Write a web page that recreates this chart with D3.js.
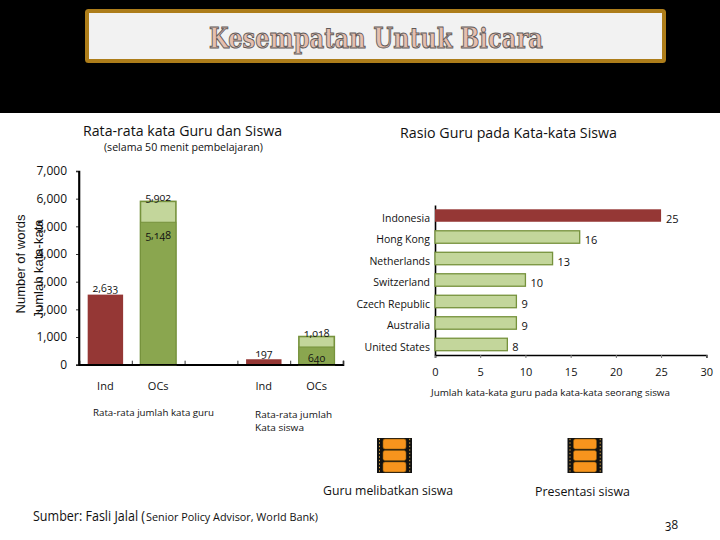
<!DOCTYPE html>
<html><head><meta charset="utf-8">
<script src="https://cdn.jsdelivr.net/npm/d3@7"></script>
<style>html,body{margin:0;padding:0;background:#fff}svg{display:block}text{fill:#111}</style>
</head><body><svg id="c" width="720" height="540"></svg>
<script>
const wordSlots = ["ind1","ocs1","gap","ind2","ocs2"];
const wordTickLabels = ["Ind","OCs","","Ind","OCs"];
const wordTicks = [0,1000,2000,3000,4000,5000,6000,7000];
const solidSlots = ["ind1","ocs1","ind2","ocs2"];
const solidValues = [2533,5148,197,640];
const solidLabels = ["2,633","5,148","197","640"];
const lightSlots = ["ocs1","ocs2"];
const lightValues = [5902,1018];
const lightLabels = ["5,902","1,018"];
const countries = ["Indonesia","Hong Kong","Netherlands","Switzerland","Czech Republic","Australia","United States"];
const ratios = [25,16,13,10,9,9,8];
const ratioTicks = [0,5,10,15,20,25,30];

const RED="#953735", GREEN="#8aa64f", LIGHT="#c3d69b", EDGE="#76923c";
const UI='"Open Sans",sans-serif';
const svg=d3.select("#c");
svg.append("rect").attr("width",720).attr("height",113).attr("fill","#000");
svg.append("rect").attr("x",87).attr("y",11).attr("width",577).attr("height",50).attr("rx",1.5)
  .attr("fill","#f2f2f2").attr("stroke","#ad7d1a").attr("stroke-width",4);
function label(x,y,s,size,opt={}){
  const t=svg.append("text").attr("x",x).attr("y",y).attr("font-family",opt.font||UI).attr("font-size",size)
   .attr("text-anchor",opt.anchor||"start").text(s);
  if(opt.len) t.attr("textLength",opt.len).attr("lengthAdjust","spacingAndGlyphs");
  if(opt.old) t.style("font-variant-numeric","oldstyle-nums");
  return t;
}
label(376,48,"Kesempatan Untuk Bicara",28,{font:'"DejaVu Serif",serif',anchor:"middle",len:334})
  .attr("font-weight","bold").style("fill","#e6bfae").attr("stroke","#5f5a5a").attr("stroke-width",1);
label(83,136,"Rata-rata kata Guru dan Siswa",14.5,{len:199});
label(400,138,"Rasio Guru pada Kata-kata Siswa",14.5,{len:217});
label(104,151,"(selama 50 menit pembelajaran)",11,{len:159});

const y=d3.scaleLinear().domain([0,7000]).range([364.7,171]);
const x=d3.scaleBand().domain(wordSlots).range([79,343]).paddingInner(.31).paddingOuter(.155);
const gy=svg.append("g").attr("transform","translate(79,0)")
  .call(d3.axisLeft(y).tickValues(wordTicks).tickFormat(d3.format(",")).tickSize(3).tickPadding(9));
const gx=svg.append("g").attr("transform","translate(0,364.7)")
  .call(d3.axisBottom(d3.scalePoint().domain(d3.range(6)).range([79,343])).tickSize(-4).tickFormat(""));
[gy,gx].forEach(g=>{g.selectAll(".domain").attr("stroke","#000").attr("stroke-width",1.6);
  g.selectAll(".tick line").attr("stroke","#333").attr("stroke-width",1);});
gy.selectAll("text").attr("font-family",UI).attr("font-size",12);
lightSlots.forEach((s,i)=>{svg.append("rect").attr("x",x(s)+.5).attr("width",x.bandwidth()-1)
  .attr("y",y(lightValues[i])).attr("height",y(0)-y(lightValues[i]))
  .attr("fill",LIGHT).attr("stroke",EDGE).attr("stroke-width",1.6);});
solidSlots.forEach((s,i)=>{const red=s.startsWith("ind");
  svg.append("rect").attr("x",x(s)+(red?.5:.5)).attr("width",x.bandwidth()-1)
  .attr("y",y(solidValues[i])).attr("height",y(0)-y(solidValues[i]))
  .attr("fill",red?RED:GREEN).attr("stroke",red?"none":EDGE).attr("stroke-width",1);});
const valueOffsets=[-3,17,-2,15];
solidSlots.forEach((s,i)=>label(x(s)+x.bandwidth()/2,y(solidValues[i])+valueOffsets[i],solidLabels[i],10.5,{anchor:"middle",old:1}));
lightSlots.forEach((s,i)=>label(x(s)+x.bandwidth()/2,y(lightValues[i])+0,lightLabels[i],10.5,{anchor:"middle",old:1}));
wordTickLabels.forEach((t,i)=>{if(t)label(x(wordSlots[i])+x.bandwidth()/2,390,t,11,{anchor:"middle"});});
svg.append("path").attr("d",`M79,${y(7000)}V${y(0)}H343`).attr("fill","none").attr("stroke","#000").attr("stroke-width",1.6);

svg.append("text").attr("transform","translate(25,264) rotate(-90)").attr("text-anchor","middle")
  .attr("font-family",'"Liberation Sans",sans-serif').attr("font-size",13).text("Number of words");
svg.append("text").attr("transform","translate(43,269) rotate(-90)").attr("text-anchor","middle")
  .attr("font-family",'"Liberation Sans",sans-serif').attr("font-size",13).text("Jumlah kata-kata");
label(93,416,"Rata-rata jumlah kata guru",9.5,{len:121});
label(255,418,"Rata-rata jumlah",9.5,{len:77});
label(255,431,"Kata siswa",9.5,{len:49});

const rx=d3.scaleLinear().domain([0,30]).range([435,706.3]);
const ry=d3.scaleBand().domain(countries).range([205,355]).paddingInner(.42).paddingOuter(.2);
const ax=svg.append("g").attr("transform","translate(0,355)")
  .call(d3.axisBottom(rx).tickValues(ratioTicks).tickSize(3).tickPadding(10));
ax.selectAll("text").attr("font-family",UI).attr("font-size",11);
ax.selectAll(".tick line").attr("stroke","#777");
ax.select(".domain").attr("stroke","#000").attr("stroke-width",1.6);
const ay=svg.append("g").attr("transform","translate(435,0)")
  .call(d3.axisLeft(ry).tickSize(0).tickPadding(5));
ay.selectAll("text").attr("font-family",UI).attr("font-size",10.5).attr("dy","0.6em");
ay.select(".domain").attr("stroke","#000").attr("stroke-width",1.6);
svg.append("g").selectAll("rect").data(countries).join("rect")
  .attr("x",rx(0)).attr("y",d=>ry(d)).attr("height",ry.bandwidth())
  .attr("width",(d,i)=>rx(ratios[i])-rx(0))
  .attr("fill",(d,i)=>i?LIGHT:RED).attr("stroke",(d,i)=>i?EDGE:"none").attr("stroke-width",1.3);
svg.append("g").selectAll("text").data(countries).join("text")
  .attr("x",(d,i)=>rx(ratios[i])+5).attr("y",d=>ry(d)+ry.bandwidth()/2+7)
  .attr("font-family",UI).attr("font-size",11).text((d,i)=>ratios[i]);
label(431,396,"Jumlah kata-kata guru pada kata-kata seorang siswa",9,{len:239});

function film(x0,y0){
  const g=svg.append("g").attr("transform",`translate(${x0},${y0})`);
  g.append("rect").attr("width",35).attr("height",35).attr("fill","#111");
  [1,12.5,24].forEach(f=>g.append("rect").attr("x",6).attr("y",f).attr("width",23).attr("height",10)
    .attr("rx",2).attr("fill","#f7941d").attr("stroke","#8a5a10").attr("stroke-width",.6));
  d3.range(0,35,3.5).forEach(v=>[2,32.2].forEach(h=>g.append("rect").attr("x",h).attr("y",v+.8).attr("width",1).attr("height",1.4).attr("fill","#d9a441")));
}
film(377,438);film(567.5,438);
label(323,495,"Guru melibatkan siswa",13.5,{len:130});
label(535,496,"Presentasi siswa",13.5,{len:95});
label(33,521,"Sumber: Fasli Jalal (",14,{len:112});
label(146,521,"Senior Policy Advisor, World Bank)",11,{len:172});
label(665,529,"38",12,{old:1,len:13});
</script></body></html>
